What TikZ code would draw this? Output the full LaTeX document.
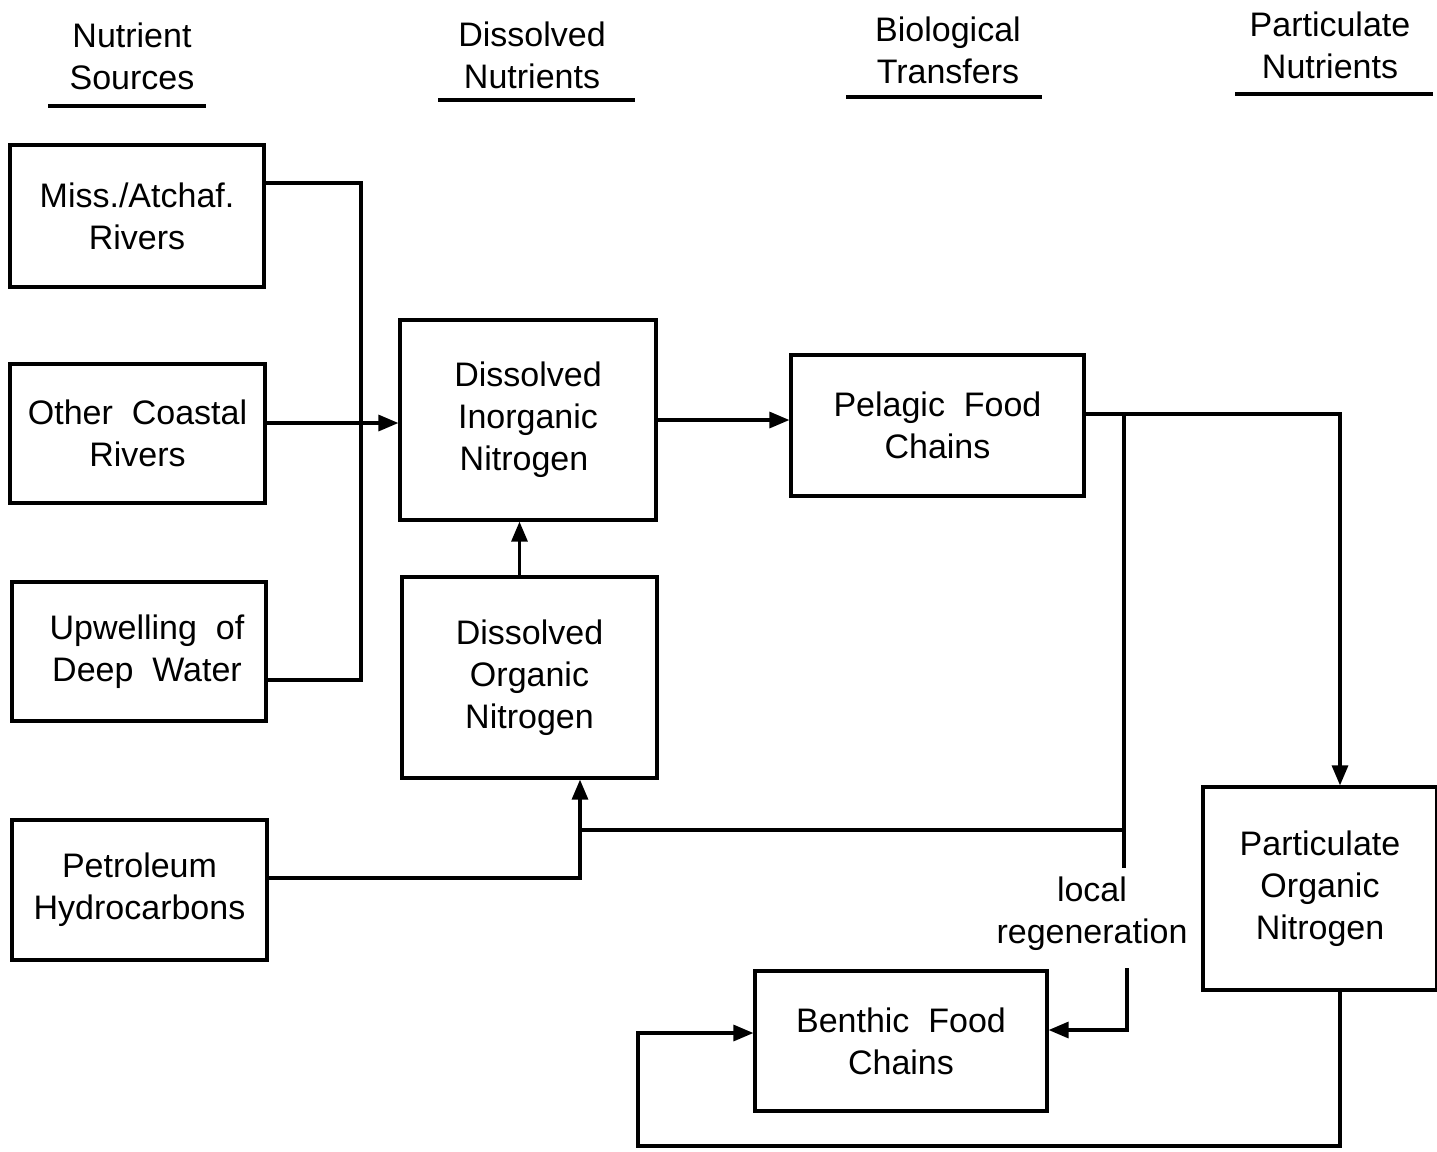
\documentclass[tikz,border=0pt]{standalone}
\usepackage{fontspec}
\setmainfont{Liberation Sans}
\usetikzlibrary{arrows.meta}
\begin{document}
\begin{tikzpicture}[x=0.5pt,y=-0.5pt,
  box/.style={draw,line width=1.6pt,inner sep=0pt,align=center,font=\fontsize{17}{21}\selectfont},
  head/.style={inner sep=0pt,align=center,font=\fontsize{17}{21}\selectfont},
  conn/.style={line width=1.6pt},
  arr/.style={conn,-{Triangle[length=10pt,width=8pt]}},
  uline/.style={line width=1.8pt}]
\useasboundingbox (0,0) rectangle (1437,1152);
% headers
\node[head] (h1) at (132,56) {Nutrient\\Sources};
\node[head] (h2) at (532,55) {Dissolved\\Nutrients};
\node[head] (h3) at (948,50) {Biological\\Transfers};
\node[head] (h4) at (1330,45) {Particulate\\Nutrients};
\draw[uline] (48,106) -- (206,106);
\draw[uline] (438,100) -- (635,100);
\draw[uline] (846,97) -- (1042,97);
\draw[uline] (1235,94) -- (1433,94);
% boxes
\node[box,minimum width=127pt,minimum height=71pt] (miss) at (137,216) {Miss./Atchaf.\\Rivers};
\node[box,minimum width=127.5pt,minimum height=69.5pt] (other) at (137.5,433.5) {Other\ \ Coastal\\Rivers};
\node[box,minimum width=127pt,minimum height=69.5pt] (upw) at (139,651.5) {\hspace*{8pt}Upwelling\ \ of\\\hspace*{8pt}Deep\ \ Water};
\node[box,minimum width=127.5pt,minimum height=70pt] (petro) at (139.5,890) {Petroleum\\Hydrocarbons};
\node[box,minimum width=128pt,minimum height=100pt] (din) at (528,420) {Dissolved\\Inorganic\\Nitrogen\hspace*{4pt}};
\node[box,minimum width=127.5pt,minimum height=100.5pt] (don) at (529.5,677.5) {Dissolved\\Organic\\Nitrogen};
\node[box,minimum width=146.5pt,minimum height=70.5pt] (pel) at (937.5,425.5) {Pelagic\ \ Food\\Chains};
\node[box,minimum width=117pt,minimum height=101.5pt] (poc) at (1320,888.5) {Particulate\\Organic\\Nitrogen};
\node[box,minimum width=146pt,minimum height=70pt] (ben) at (901,1041) {Benthic\ \ Food\\Chains};
\node[head] (lab) at (1092,914) {local\\regeneration};
% junction coordinates
\coordinate (j1) at (361,423);
\coordinate (j2) at (1124,414);
\coordinate (j3) at (1124,830);
\coordinate (j4) at (1124,868);
\coordinate (j5) at (580,830);
\coordinate (j6) at (1127,968);
\coordinate (j7) at (638,1146);
% connectors
\draw[conn] ([yshift=16.5pt]miss.east) -| (j1) |- ([yshift=-14.25pt]upw.east);
\draw[arr] (other.east |- j1) -- (din.west |- j1);
\draw[arr] (din.east) -- (din.east -| pel.west);
\draw[arr] ([xshift=-5pt]don.north) -- ([xshift=-5pt]don.north |- din.south);
\draw[arr] ([yshift=5.75pt]pel.east) -| ([xshift=10pt]poc.north);
\draw[conn] (j2) -- (j4);
\draw[conn] (j3) -- (j5);
\draw[arr] ([yshift=6pt]petro.east) -| (j5 |- don.south);
\draw[arr] (j6) |- ([yshift=5.5pt]ben.east);
\draw[arr] ([xshift=10pt]poc.south) |- (j7) |- ([yshift=4pt]ben.west);
\end{tikzpicture}
\end{document}
